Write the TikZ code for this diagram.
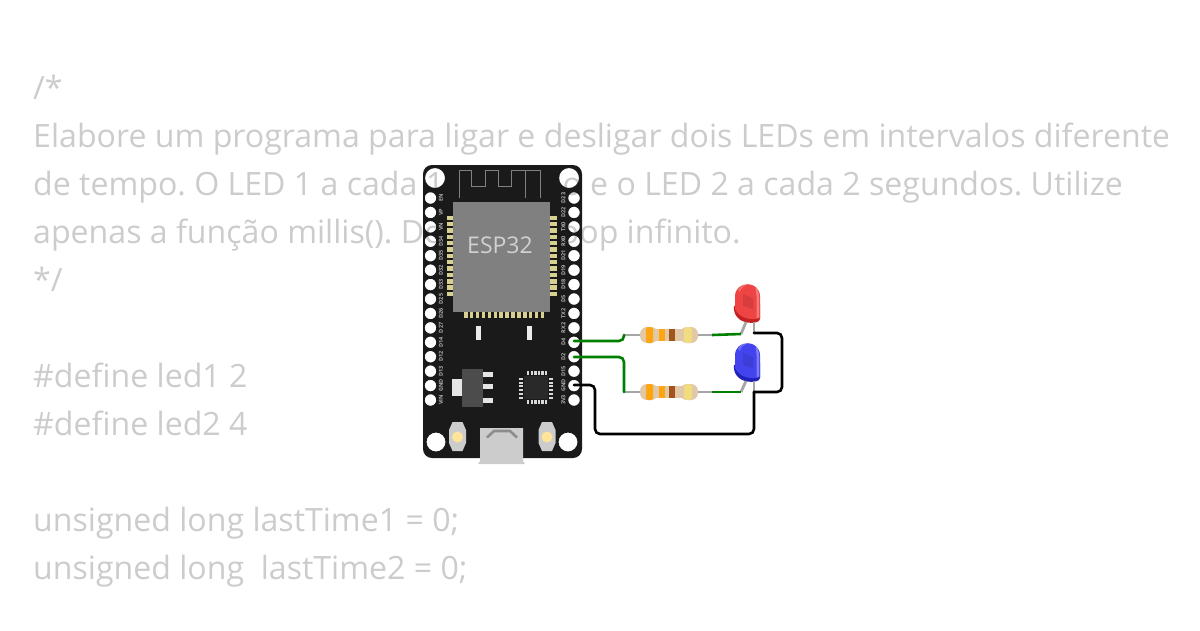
\documentclass[tikz,border=0pt]{standalone}
\usepackage{fontspec}
\setmainfont{Open Sans}
\setsansfont{Open Sans}
\usetikzlibrary{positioning,calc}
\definecolor{boardblack}{HTML}{1A1A1A}
\definecolor{chipgrey}{HTML}{808080}
\definecolor{padgold}{HTML}{D8D090}
\definecolor{codegrey}{HTML}{CCCCCC}
\definecolor{wiregreen}{HTML}{008000}
\definecolor{leadgrey}{HTML}{A6A6A6}
\definecolor{bodytan}{HTML}{E0C8A8}
\definecolor{bandorange}{HTML}{FFA50F}
\definecolor{bandbrown}{HTML}{A0561A}
\definecolor{bandyellow}{HTML}{F2DC80}
\definecolor{ledred}{HTML}{EE4444}
\definecolor{ledreddark}{HTML}{C42222}
\definecolor{ledblue}{HTML}{4444EE}
\definecolor{ledbluedark}{HTML}{2222BB}
\definecolor{btnlight}{HTML}{FFE49A}
\tikzset{
	codeline/.style={anchor=base west,inner sep=0pt,text=codegrey,font=\fontsize{32.1}{32.1}\selectfont},
	pinlabel/.style={inner sep=0pt,text=white!70!black,font=\fontsize{5.5}{5.5}\selectfont\bfseries,rotate=90},
	wire/.style={line width=2.6pt,rounded corners=5pt,line cap=round},
	greenwire/.style={wire,draw=wiregreen},
	blackwire/.style={wire,draw=black},
	lead/.style={line width=2.8pt,draw=leadgrey}
}
\newcommand{\resistor}[1]{
	\begin{scope}[shift={(#1)}]
		\fill[bodytan,rounded corners=7pt] (0,-8) rectangle (18,8);
		\fill[bodytan,rounded corners=7pt] (40,-8) rectangle (58,8);
		\fill[bodytan] (12,-5.6) rectangle (46,5.6);
		\fill[bandorange,rounded corners=2pt] (6,-8) rectangle (13,8);
		\fill[bandorange] (19,-6) rectangle (24.5,6);
		\fill[bandbrown] (29,-6) rectangle (34.5,6);
		\fill[bandyellow,rounded corners=3pt] (44,-8) rectangle (52,8);
	\end{scope}
}
\newcommand{\led}[3]{
	\begin{scope}[shift={(#1)}]
		\fill[#3] (-13,22) .. controls (-14,31) and (-8,37) .. (0,38.5) .. controls (6,39.5) and (13,38.5) .. (13,35) -- (13,20) -- cycle;
		\fill[#2] (-12,12.5) .. controls (-12,-4) and (13,-4) .. (13,12.5) -- (13,34) .. controls (5,36.5) and (-7,35) .. (-12,25) -- cycle;
		\fill[white,opacity=.3] (8.5,2) .. controls (11,5) and (12,9) .. (12,13) -- (12,33.5) -- (9.5,34) -- (9.5,12) -- cycle;
		\fill[white,opacity=.2] (-9,6) .. controls (-7,1) and (-3,0) .. (1,0) .. controls (-3,2) and (-6,4) .. (-7,8) -- cycle;
		\fill[black,opacity=.09] (-4,10) -- (6,14) -- (6,25) -- (-4,22) -- cycle;
	\end{scope}
}
\begin{document}
\frenchspacing
\begin{tikzpicture}[x=1pt,y=-1pt]
	\useasboundingbox (0,0) rectangle (1200,630);
	% code text behind the board
	\begin{scope}
		\clip (0,0) rectangle (1167,630);
		\node[codeline] (line0) at (33,99) {/*};
		\node[codeline] (line1) at (33,147) {Elabore um programa para ligar e desligar dois LEDs em intervalos diferentes};
		\node[codeline] (line2) at (33,195) {de tempo. O LED 1 a cada 1 segundo e o LED 2 a cada 2 segundos. Utilize};
		\node[codeline] (line3) at (33,243) {apenas a função millis(). Dentro do\kern-9pt{} loop infinito.};
		\node[codeline] (line4) at (33,291) {*/};
		\node[codeline] (line5) at (33,387) {\#define led1 2};
		\node[codeline] (line6) at (33,435) {\#define led2 4};
		\node[codeline] (line7) at (33,531) {unsigned long lastTime1 = 0;};
		\node[codeline] (line8) at (33,579) {unsigned long\ \ lastTime2 = 0;};
	\end{scope}

	% board with open holes
	\fill[boardblack,even odd rule,rounded corners=9pt] (423,165) rectangle (582,458)
		(435,178) circle (10) (569,178) circle (10) (436,442) circle (9.5) (568,442) circle (9.5)
		foreach \i in {0,...,14} {(430.5,198+\i*14.43) circle (5.8) (574,198+\i*14.43) circle (5.8)};

	% antenna
	\draw[chipgrey,line width=1pt] (459.3,198) |- (471.7,170) |- (485,186.7) |- (498.3,170) |- (511.7,186.7) |- (540,170) -- (540,198);
	\draw[chipgrey,line width=1pt] (525,170) -- (525,198);

	% module
	\foreach \i in {0,...,12} {
		\fill[padgold] (447,215.5+\i*6.35) rectangle (453,220+\i*6.35);
		\fill[padgold] (550,215.5+\i*6.35) rectangle (557,220+\i*6.35);
	}
	\foreach \i in {0,...,13} {
		\fill[padgold] (464+\i*5.9,311) rectangle (467.5+\i*5.9,318);
	}
	\fill[chipgrey] (452.5,202) rectangle (550,312);
	\node[inner sep=0pt,text=white!82!black,font=\fontsize{23}{23}\selectfont] (esplabel) at (500,245) {ESP32};

	% pin labels
	\foreach \name [count=\i from 0] in {EN,VP,VN,D34,D35,D32,D33,D25,D26,D27,D14,D12,D13,GND,VIN} {
		\node[pinlabel] (left\i) at (441,198+\i*14.43) {\name};
	}
	\foreach \name [count=\i from 0] in {D23,D22,TX0,RX0,D21,D19,D18,D5,TX2,RX2,D4,D2,D15,GND,3V3} {
		\node[pinlabel] (right\i) at (563.5,198+\i*14.43) {\name};
	}

	% small parts
	\fill[white!92!black] (475.7,326) rectangle (481,340);
	\fill[white!92!black] (526.7,326) rectangle (532.3,340);
	\fill[white!30!black] (462,369) rectangle (482.7,406.7);
	\fill[white!90!black] (451.7,379) rectangle (462,395.7);
	\foreach \y in {372,384,397.7} {
		\fill[white!90!black] (482.7,\y) rectangle (492.7,\y+5);
	}
	\fill[white!16!black] (524,376) rectangle (548,399);
	\foreach \i in {0,...,5} {
		\fill[white!85!black] (527+\i*3.6,370.5) rectangle (529.4+\i*3.6,374.5);
		\fill[white!85!black] (527+\i*3.6,400) rectangle (529.4+\i*3.6,404);
		\fill[white!85!black] (519,378+\i*3.7) rectangle (523,380+\i*3.7);
		\fill[white!85!black] (549,378+\i*3.7) rectangle (552.5,380+\i*3.7);
	}

	% buttons and usb
	\foreach \x/\name in {457.5/btnen,547/btnboot} {
		\fill[white!80!black] (\x-5,422) -- (\x+5,422) -- (\x+8.5,430) -- (\x+8.5,443) -- (\x+5,451) -- (\x-5,451) -- (\x-8.5,443) -- (\x-8.5,430) -- cycle;
		\fill[btnlight] (\x,437) circle (5.5);
	}
	\fill[white!80!black] (480,428) -- (523,428) -- (523,461) -- (525,464) -- (478,464) -- (480,461) -- cycle;
	\draw[white!55!black,line width=2.6pt] (487,437.5) -- (494,431) -- (510,431) -- (517,437.5);

	% parts on the right
	\resistor{640,335}
	\resistor{640,392}
	\led{747,284}{ledred}{ledreddark}
	\led{747,343}{ledblue}{ledbluedark}

	\coordinate (d4) at (574,341);
	\coordinate (d2) at (574,357);
	\coordinate (gnd) at (574,385);
	\coordinate (res1l) at (624,335);
	\coordinate (res1r) at (712,335);
	\coordinate (res2l) at (624,392);
	\coordinate (res2r) at (712,392);
	\coordinate (redA) at (746,322);
	\coordinate (redK) at (754,322);
	\coordinate (blueA) at (746,381);
	\coordinate (blueK) at (754,381);
	\coordinate (redJ) at (754,333);
	\coordinate (blueJ) at (754,392);

	% leads
	\draw[lead] (res1l) -- (640,335) (698,335) -- (res1r);
	\draw[lead] (res2l) -- (640,392) (698,392) -- (res2r);
	\draw[lead] (redA) -- (741,334);
	\draw[lead] (redK) -- (redJ);
	\draw[lead] (blueA) -- (741,392);
	\draw[lead] (blueK) -- (blueJ);

	% wires
	\draw[greenwire] (d4) -- (624,341) -- (res1l);
	\draw[greenwire] (d2) -- (624,357) -- (res2l);
	\draw[greenwire,line cap=butt] (res1r) -- (741,334);
	\draw[greenwire,line cap=butt] (res2r) -- (741,392);
	\draw[blackwire] (redJ) -| (782,392) -- (blueJ);
	\draw[blackwire] (blueJ) -- (754,434) -- (595,434) -- (595,385) -- (gnd);
\end{tikzpicture}
\end{document}
